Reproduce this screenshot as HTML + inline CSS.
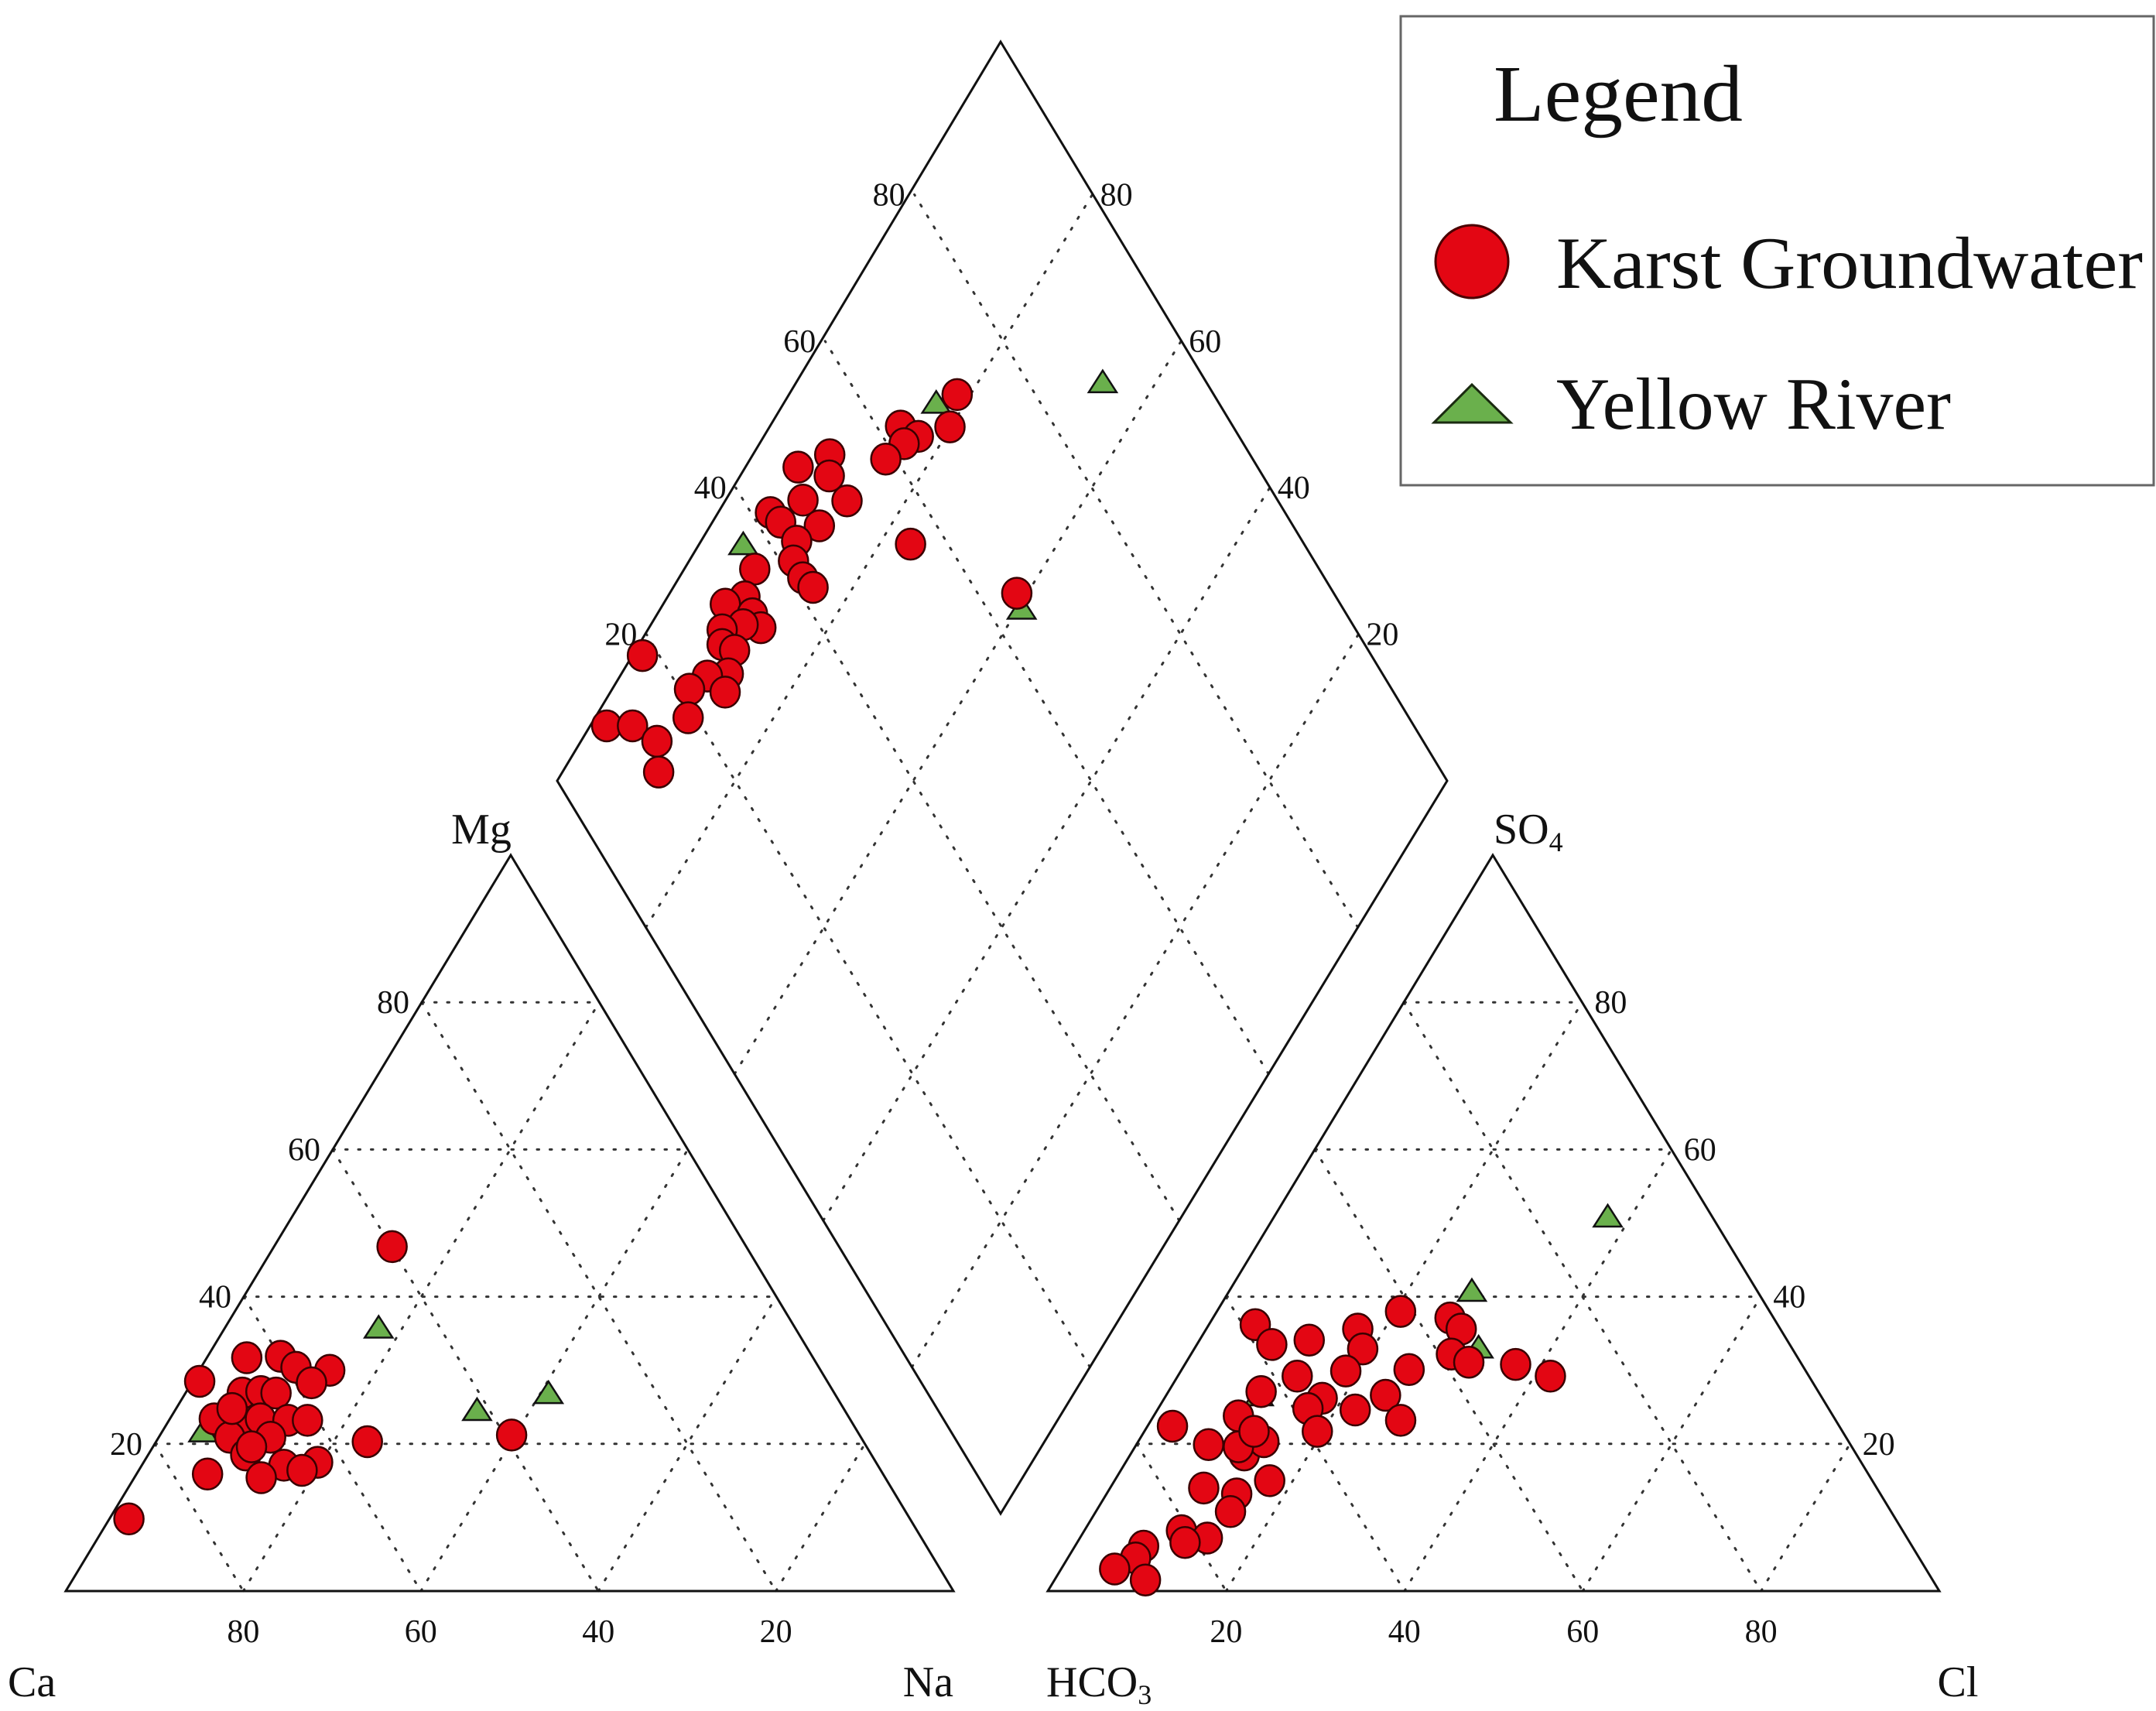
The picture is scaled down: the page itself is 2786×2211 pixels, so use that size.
<!DOCTYPE html>
<html><head><meta charset="utf-8"><style>
html,body{margin:0;padding:0;background:#fff;}
svg{display:block;font-family:"Liberation Serif",serif;}
</style></head><body>
<svg id="chart" width="2786" height="2211" viewBox="0 0 2786 2211" xmlns="http://www.w3.org/2000/svg">
<g id="grid"></g>
<g id="frames"></g>
<g id="labels"></g>
<g id="marks"></g>
<g>
  <rect x="1810" y="21" width="973" height="606" fill="#fff" stroke="#666" stroke-width="3"/>
  <text x="1930" y="156" font-size="104" textLength="322" lengthAdjust="spacingAndGlyphs" fill="#111">Legend</text>
  <ellipse cx="1902" cy="338" rx="47" ry="47" fill="#e30613" stroke="#4a0000" stroke-width="3"/>
  <text x="2011" y="372" font-size="95" textLength="758" lengthAdjust="spacingAndGlyphs" fill="#111">Karst  Groundwater</text>
  <polygon points="1853,546 1952,546 1902,497" fill="#6ab04c" stroke="#1a2a10" stroke-width="3"/>
  <text x="2011" y="554" font-size="95" textLength="510" lengthAdjust="spacingAndGlyphs" fill="#111">Yellow River</text>
</g>
</svg>
<script>
// ---- data (percent) ----
const karstMg = [31.7,31.9,30.4,30.0,28.3,28.5,26.9,27.1,26.9,23.4,23.2,23.4,23.2,23.2,20.9,20.9,18.5,17.1,17.5,16.4,15.4,15.9,20.3,9.8,46.8,21.2,24.8,19.6];
const karstNa = [4.5,8.2,10.7,14.7,13.5,0.8,6.4,8.4,10.2,5.0,8.0,10.2,13.4,15.6,8.0,12.6,11.0,16.0,19.6,18.4,14.3,8.0,23.8,2.2,13.3,39.6,6.3,11.1];
const riverMg = [21.7,35.8,24.6,26.9];
const riverNa = [4.6,17.3,34.0,40.9];
const karstSO4 = [36.2,33.5,34.1,35.6,32.9,38.0,37.1,35.6,32.2,31.1,30.1,30.8,29.2,29.2,29.9,27.1,26.2,24.8,24.6,26.6,23.2,21.7,22.4,23.8,19.9,18.5,20.3,14.0,13.2,15.0,10.8,8.2,7.2,6.6,6.1,4.5,3.0,1.5,19.6,21.7];
const karstCl = [5.2,8.4,12.3,17.0,18.9,20.6,26.6,28.6,29.2,31.7,25.5,37.1,41.8,13.4,18.5,10.4,17.7,16.8,22.2,24.6,28.0,19.4,2.8,9.5,8.1,12.8,14.1,10.5,14.6,17.4,15.1,10.9,14.3,12.1,7.7,7.6,6.0,10.2,11.6,12.3];
const riverSO4 = [40.8,33.1,26.6,50.9];
const riverCl = [27.2,31.8,10.4,37.4];
const karstDiamondT = [71.2,68.2,62.7,64.0,61.9,58.8,52.8,48.4,51.3,51.6,46.7,42.2,42.7,46.8,43.2,41.5,41.4,41.9,36.6,33.6,30.9,33.3,33.3,31.5,28.8,27.8,28.8,26.5,24.0,24.9,21.1,19.0,18.1,9.3,12.2,13.9,12.0,55.8,64.4];
const karstDiamondS = [81.5,80.1,85.7,83.0,84.1,85.1,91.7,94.4,90.3,86.6,91.6,94.4,92.6,88.0,89.5,88.5,86.3,84.5,92.3,91.5,93.2,89.5,87.6,89.8,91.8,90.8,89.0,88.1,90.3,87.2,91.4,89.6,99.0,98.2,95.3,91.5,89.2,76.5,61.2];
const riverDiamondT = [68.3,37.0,63.9,88.4];
const riverDiamondS = [83.3,95.3,59.6,66.0];
const tickValues = [20,40,60,80];

// ---- geometry ----
const NS="http://www.w3.org/2000/svg";
const CA=[85,2056], NA=[1232,2056], MG=[660,1105];
const HC=[1354,2056], CL=[2506,2056], SO=[1929,1105];
const DB=[1293,1956], DL=[720,1009], DR=[1870,1009], DT=[1293,54];
function tern(A,B,C,b,c){b/=100;c/=100;const a=1-b-c;return [a*A[0]+b*B[0]+c*C[0], a*A[1]+b*B[1]+c*C[1]];}
function cat(na,mg){return tern(CA,NA,MG,na,mg);}
function ani(cl,so){return tern(HC,CL,SO,cl,so);}
function dia(t,s){t/=100;s/=100;return [DB[0]+s*(DL[0]-DB[0])+t*(DR[0]-DB[0]), DB[1]+s*(DL[1]-DB[1])+t*(DR[1]-DB[1])];}
function mk(tag,attrs,parent){const e=document.createElementNS(NS,tag);for(const k in attrs)e.setAttribute(k,attrs[k]);parent.appendChild(e);return e;}
const grid=document.getElementById('grid'),frames=document.getElementById('frames'),labels=document.getElementById('labels'),marks=document.getElementById('marks');
function dline(p,q){const l=mk('line',{x1:p[0],y1:p[1],x2:q[0],y2:q[1],stroke:'#333','stroke-width':3,'stroke-dasharray':'2.5 14','stroke-linecap':'round'},grid);

}
function txt(x,y,s,size,anchor,name){const t=mk('text',{x:x,y:y,'font-size':size,'text-anchor':anchor,fill:'#111'},labels);t.textContent=s;

return t;}

// grids
tickValues.forEach(v=>{
  dline(cat(0,v),cat(100-v,v)); dline(cat(v,0),cat(v,100-v)); dline(cat(0,100-v),cat(100-v,0));
  dline(ani(0,v),ani(100-v,v)); dline(ani(v,0),ani(v,100-v)); dline(ani(0,100-v),ani(100-v,0));
  dline(dia(v,0),dia(v,100)); dline(dia(0,v),dia(100,v));
});
// frames
function poly(pts,name){const p=mk('polygon',{points:pts.map(q=>q.join(',')).join(' '),fill:'none',stroke:'#111','stroke-width':3},frames);

}
poly([CA,NA,MG],'cation-triangle');
poly([HC,CL,SO],'anion-triangle');
poly([DB,DR,DT,DL],'central-diamond');

// tick labels
tickValues.forEach(v=>{
  let p=cat(0,v); txt(p[0]-16,p[1]+14,String(v),42,'end','cation-mg-tick');
  p=cat(100-v,0); txt(p[0],2122,String(v),42,'middle','cation-ca-tick');
  p=ani(100-v,v); txt(p[0]+16,p[1]+14,String(v),42,'start','anion-so4-tick');
  p=ani(v,0); txt(p[0],2122,String(v),42,'middle','anion-cl-tick');
  p=dia(v,100); txt(p[0]-12,p[1]+14,String(v),42,'end','diamond-left-tick');
  p=dia(100,v); txt(p[0]+10,p[1]+14,String(v),42,'start','diamond-right-tick');
});
txt(10,2192,'Ca',56,'start','ca-corner-label');
txt(1232,2192,'Na',56,'end','na-corner-label');
txt(622,1090,'Mg',56,'middle','mg-apex-label');
txt(2530,2192,'Cl',56,'middle','cl-corner-label');
const h=txt(1352,2192,'HCO',56,'start','hco3-corner-label');
const hs=mk('tspan',{'font-size':36,dy:10},h); hs.textContent='3';
const so=txt(1930,1090,'SO',56,'start','so4-apex-label');
const ss=mk('tspan',{'font-size':36,dy:10},so); ss.textContent='4';

// markers
function circ(p){const e=mk('ellipse',{cx:p[0],cy:p[1],rx:19,ry:20,fill:'#e30613',stroke:'#3a0000','stroke-width':2.5},marks);

}
function tri(p){const e=mk('polygon',{points:`${p[0]-18},${p[1]+13} ${p[0]+18},${p[1]+13} ${p[0]},${p[1]-15}`,fill:'#6ab04c',stroke:'#111','stroke-width':2.5},marks);

}
riverMg.forEach((m,i)=>tri(cat(riverNa[i],m)));
karstMg.forEach((m,i)=>circ(cat(karstNa[i],m)));
riverSO4.forEach((s,i)=>tri(ani(riverCl[i],s)));
karstSO4.forEach((s,i)=>circ(ani(karstCl[i],s)));
riverDiamondT.forEach((t,i)=>tri(dia(t,riverDiamondS[i])));
karstDiamondT.forEach((t,i)=>circ(dia(t,karstDiamondS[i])));
</script>
</body></html>
